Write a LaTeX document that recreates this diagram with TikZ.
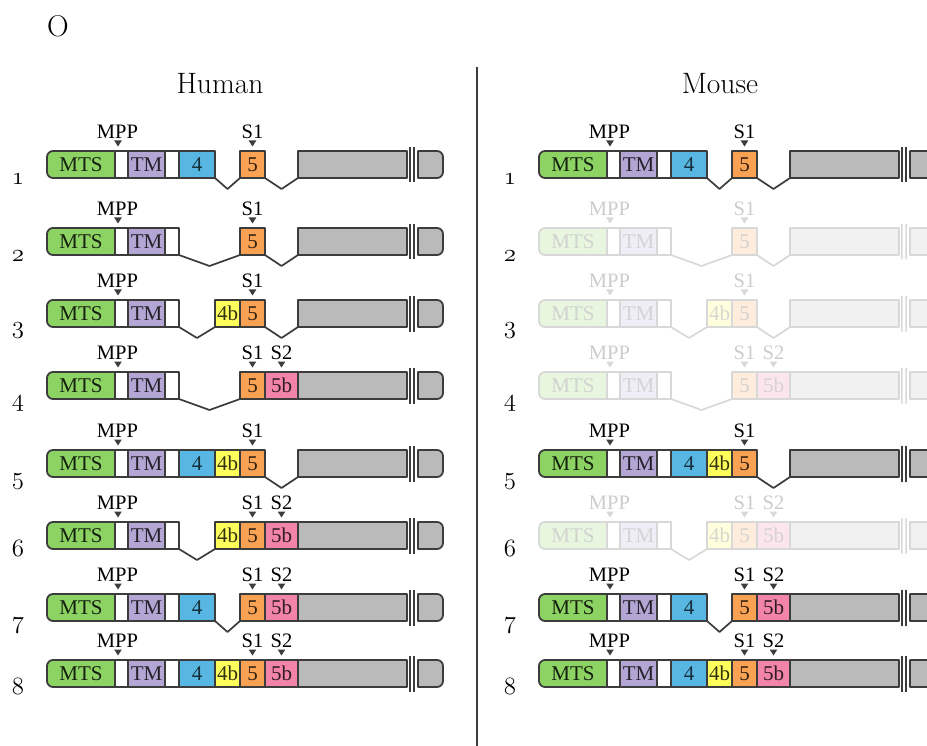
\documentclass[tikz,border=0pt]{standalone}
\usepackage{fontspec}
\newfontfamily\tms{Liberation Serif}
\definecolor{mtsc}{RGB}{141,211,100}
\definecolor{tmc}{RGB}{180,166,212}
\definecolor{fourc}{RGB}{88,183,226}
\definecolor{fourbc}{RGB}{255,255,92}
\definecolor{fivec}{RGB}{250,162,84}
\definecolor{fivebc}{RGB}{242,132,170}
\definecolor{grayc}{RGB}{186,186,186}
\definecolor{edgec}{RGB}{60,60,60}
\tikzset{
  segline/.style={draw=edgec, line width=1.8pt, line join=round},
  segbox/.style={segline, rectangle, minimum height=27pt, inner sep=0pt, outer sep=0pt,
    font=\tms\fontsize{21}{24}\selectfont},
  lbl/.style={inner sep=0pt, font=\tms\fontsize{21}{24}\selectfont},
  plbl/.style={inner sep=0pt, anchor=base, font=\tms\fontsize{20.5}{24}\selectfont},
  vline/.style={draw=edgec, line width=1.7pt, line join=round},
  rownum/.style={inner sep=0pt, anchor=base, font=\fontsize{23}{26}\usefont{OML}{lmm}{m}{it}},
  head/.style={inner sep=0pt, anchor=base, font=\fontsize{29.5}{34}\selectfont}
}
\newcommand\marker[2]{\fill[edgec] ({#1-3.8},{#2-10.5}) -- ({#1+3.8},{#2-10.5}) -- (#1,{#2-4.5}) -- cycle;}
\newcommand\generow[6]{%
\begin{scope}[xshift=#2pt]
\pgfmathsetmacro\yt{#3}\pgfmathsetmacro\yb{#3+27}\pgfmathsetmacro\ym{#3+13.5}\pgfmathsetmacro\yv{#3+38}
\draw[segline, fill=mtsc] (123,\yt) -- (53,\yt) arc[start angle=270, end angle=180, radius=6]
  -- (47,{\yb-6}) arc[start angle=180, end angle=90, radius=6] -- (123,\yb) -- cycle;
\node[lbl, text=mtsc!15!black] (#1mts) at (81,\ym) {MTS};
\node[segbox, fill=white, minimum width=13pt] (#1wa) at (121.5,\ym) {};
\node[segbox, fill=tmc, text=tmc!20!black, minimum width=37pt] (#1tm) at (146.5,\ym) {TM};
\node[segbox, fill=white, minimum width=14pt] (#1wb) at (172,\ym) {};
\ifnum#4=1 \node[segbox, fill=fourc, text=fourc!25!black, minimum width=36pt] (#1four) at (197,\ym) {4};\fi
\ifnum#5=1 \node[segbox, fill=fourbc, text=fourbc!20!black, minimum width=25pt] (#1fourb) at (227.5,\ym) {4b};\fi
\node[segbox, fill=fivec, text=fivec!20!black, minimum width=25pt] (#1five) at (252.5,\ym) {5};
\ifnum#6=1 \node[segbox, fill=fivebc, text=fivebc!20!black, minimum width=33pt] (#1fiveb) at (281.5,\ym) {5b};\fi
\node[segbox, fill=grayc, minimum width=109pt] (#1tail) at (352.5,\ym) {};
\draw[segline, fill=grayc] (418,\yt) -- (437,\yt) arc[start angle=270, end angle=360, radius=6]
  -- (443,{\yb-6}) arc[start angle=0, end angle=90, radius=6] -- (418,\yb) -- cycle;
\draw[edgec, line width=1.5pt] (409.8,{\yt-4}) -- (409.8,{\yb+4.5});
\draw[edgec, line width=1.5pt] (414,{\yt-4}) -- (414,{\yb+4.5});
\ifnum#5=0
  \ifnum#4=1 \draw[vline] (#1four.south east) -- (227.5,\yv) -- (#1five.south west);
  \else \draw[vline] (#1wb.south east) -- (209.5,\yv) -- (#1five.south west);\fi
\else
  \ifnum#4=0 \draw[vline] (#1wb.south east) -- (197,\yv) -- (#1fourb.south west);\fi
\fi
\ifnum#6=0 \draw[vline] (#1five.south east) -- (281.5,\yv) -- (#1tail.south west);
\else
  \marker{281.5}{\yt}
  \node[plbl] (#1stwo) at (281.5,{\yt-12.5}) {S2};
\fi
\marker{118}{\yt}
\node[plbl] (#1mpp) at (117.5,{\yt-12.5}) {MPP};
\marker{252.5}{\yt}
\node[plbl] (#1sone) at (252.5,{\yt-12.5}) {S1};
\end{scope}}
\begin{document}
\begin{tikzpicture}[x=1pt, y=-1pt]
\useasboundingbox (0,0) rectangle (927,746);
\clip (0,0) rectangle (927,746);
\node[head, font=\fontsize{30}{34}\selectfont] (panel) at (58,37) {O};
\node[head] (human) at (220,94) {Human};
\node[head] (mouse) at (720,94) {Mouse};
\draw[edgec, line width=2pt] (477,67) -- (477,746);
% human rows
\generow{ha}{0}{151}{1}{0}{0}
\generow{hb}{0}{228}{0}{0}{0}
\generow{hc}{0}{300}{0}{1}{0}
\generow{hd}{0}{372}{0}{0}{1}
\generow{he}{0}{450}{1}{1}{0}
\generow{hf}{0}{522}{0}{1}{1}
\generow{hg}{0}{594}{1}{0}{1}
\generow{hh}{0}{660}{1}{1}{1}
% mouse rows
\generow{ma}{492}{151}{1}{0}{0}
\begin{scope}[opacity=0.2, transparency group]
\generow{mb}{492}{228}{0}{0}{0}
\generow{mc}{492}{300}{0}{1}{0}
\generow{md}{492}{372}{0}{0}{1}
\generow{mf}{492}{522}{0}{1}{1}
\end{scope}
\generow{me}{492}{450}{1}{1}{0}
\generow{mg}{492}{594}{1}{0}{1}
\generow{mh}{492}{660}{1}{1}{1}
% row numbers
\foreach \n/\y [count=\i] in {1/178,2/255,3/327,4/399,5/477,6/549,7/621,8/687}{
  \node[rownum] (hn\i) at (18,{\y+7}) {\n};
  \node[rownum] (mn\i) at (510,{\y+7}) {\n};
}
\end{tikzpicture}
\end{document}
